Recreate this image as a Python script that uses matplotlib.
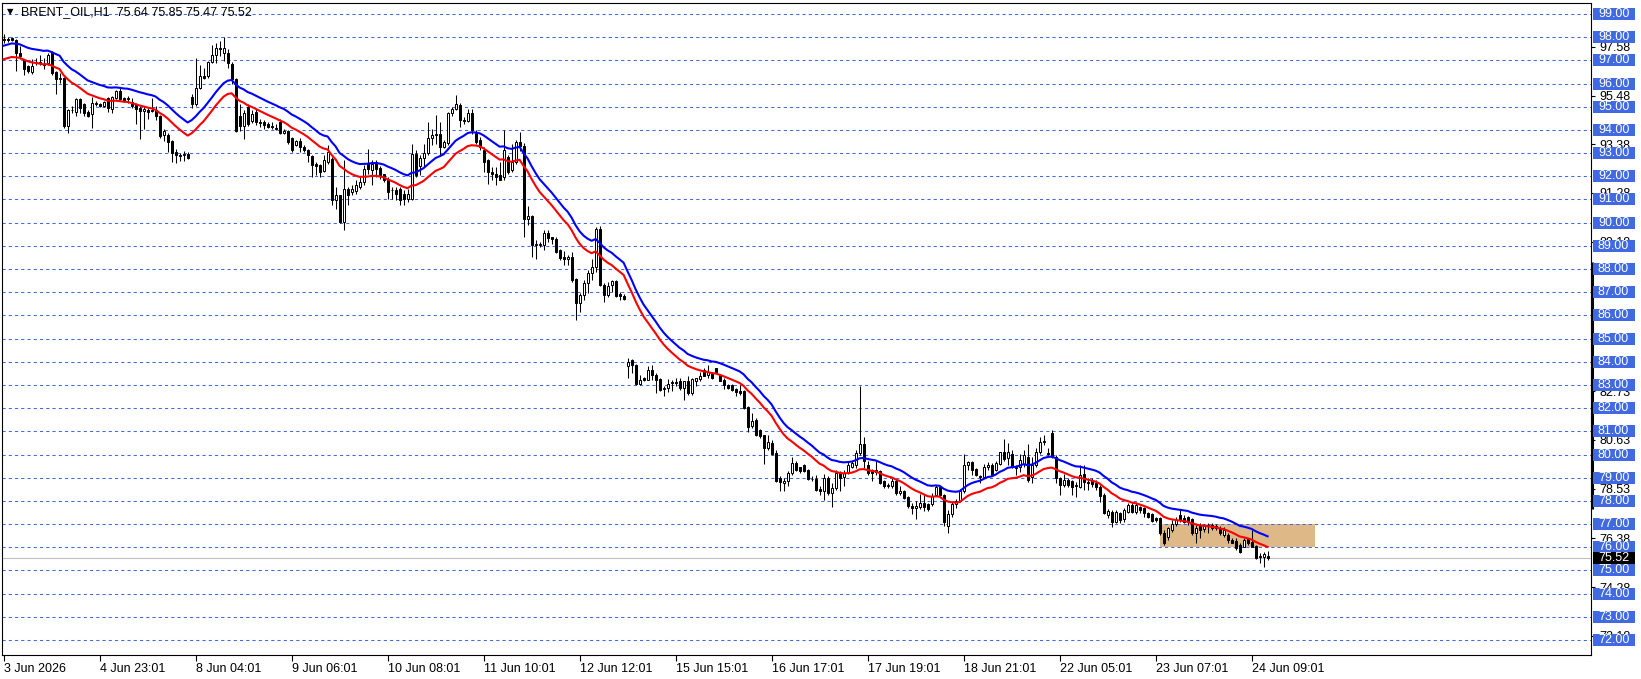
import matplotlib
matplotlib.use("Agg")
import matplotlib.pyplot as plt
import matplotlib.transforms as mtransforms
from matplotlib.patches import Rectangle
import numpy as np

plt.rcParams['font.family'] = ['Liberation Sans', 'DejaVu Sans']

# ---- data (hourly bars, oldest first) ----
title_text = "BRENT_OIL,H1  75.64 75.85 75.47 75.52"
time_labels = ["3 Jun 2026", "4 Jun 23:01", "8 Jun 04:01", "9 Jun 06:01",
               "10 Jun 08:01", "11 Jun 10:01", "12 Jun 12:01", "15 Jun 15:01",
               "16 Jun 17:01", "17 Jun 19:01", "18 Jun 21:01", "22 Jun 05:01",
               "23 Jun 07:01", "24 Jun 09:01"]
bars_per_label = 24

opens = [
    97.88, 97.92, 97.95, 97.87, 97.30, 97.00, 96.75, 96.50, 96.90, 96.92,
    96.86, 96.89, 97.30, 96.49, 96.20, 96.25, 94.16, 94.85, 94.77, 95.34,
    95.10, 94.78, 94.67, 95.14, 95.12, 95.03, 95.39, 94.91, 95.39, 95.70,
    95.39, 95.34, 95.20, 95.10, 94.95, 94.80, 94.88, 94.80, 94.88, 94.62,
    93.76, 93.76, 93.52, 93.04, 92.92, 92.94, 92.97, 95.43, 95.10, 95.82,
    96.32, 96.32, 96.92, 97.25, 97.54, 97.33, 97.32, 96.86, 96.18, 94.62,
    94.16, 95.00, 94.38, 94.78, 94.35, 94.35, 94.27, 94.16, 94.10, 94.35,
    93.87, 93.96, 93.67, 93.37, 93.53, 93.27, 93.15, 92.86, 92.55, 92.47,
    92.23, 92.62, 92.76, 90.96, 91.18, 90.03, 91.47, 91.32, 91.37, 91.54,
    91.76, 92.55, 92.29, 92.62, 92.37, 92.09, 91.86, 91.40, 91.40, 91.47,
    91.25, 91.04, 91.04, 92.95, 92.43, 92.81, 93.01, 93.63, 93.77, 93.84,
    93.27, 93.44, 94.71, 94.92, 95.06, 94.42, 94.39, 94.73, 93.87, 93.58,
    93.12, 92.69, 92.19, 92.12, 92.04, 91.97, 92.83, 92.26, 92.62, 93.48,
    93.30, 90.17, 90.27, 89.03, 89.05, 89.03, 89.57, 89.38, 89.31, 88.81,
    88.52, 88.42, 88.50, 87.56, 86.52, 86.88, 87.38, 87.81, 88.09, 89.74,
    87.31, 86.88, 87.31, 87.48, 86.91, 86.85, 83.80, 84.08, 83.87, 83.04,
    83.30, 83.22, 83.65, 83.44, 83.27, 82.84, 82.89, 83.08, 83.12, 83.15,
    82.87, 83.18, 82.65, 83.15, 83.27, 83.65, 83.44, 83.51, 83.72, 83.41,
    83.22, 83.01, 83.01, 82.82, 82.72, 82.72, 82.03, 81.22, 81.50, 81.07,
    80.83, 80.29, 80.51, 80.05, 78.99, 78.77, 78.87, 79.20, 79.63, 79.44,
    79.53, 79.34, 78.96, 78.96, 78.53, 78.42, 78.99, 78.34, 78.56, 79.20,
    79.01, 79.20, 79.48, 79.56, 80.05, 80.44, 79.56, 79.34, 79.34, 79.27,
    78.87, 78.63, 78.63, 78.87, 78.34, 78.44, 78.16, 77.77, 77.68, 77.73,
    77.92, 77.85, 77.85, 78.27, 78.59, 78.27, 76.90, 77.45, 77.85, 77.99,
    78.42, 79.56, 79.67, 79.38, 79.06, 79.01, 79.48, 79.53, 79.34, 79.58,
    80.10, 79.84, 80.01, 79.48, 79.47, 79.61, 79.90, 79.04, 79.54, 80.11,
    80.54, 80.06, 80.93, 79.90, 78.97, 78.68, 78.89, 78.87, 78.66, 78.61,
    79.18, 78.82, 78.87, 78.75, 78.61, 78.25, 77.39, 77.53, 77.10, 77.46,
    77.20, 77.53, 77.82, 77.53, 77.75, 77.68, 77.46, 77.42, 77.25, 77.25,
    76.60, 76.46, 76.75, 77.00, 77.39, 77.25, 77.32, 77.20, 76.60, 76.96,
    76.77, 76.92, 76.82, 76.92, 76.82, 76.53, 76.53, 76.32, 76.29, 76.10,
    76.03, 76.34, 76.24, 76.06, 75.60, 75.57, 75.64,
]
highs = [
    98.15, 98.00, 98.00, 97.92, 97.61, 97.05, 96.80, 97.04, 97.11, 97.25,
    97.11, 97.32, 97.40, 96.53, 96.46, 96.30, 94.90, 95.03, 95.39, 95.38,
    95.15, 94.85, 95.43, 95.24, 95.18, 95.25, 95.42, 95.46, 95.74, 95.82,
    95.43, 95.46, 95.39, 95.14, 95.03, 95.03, 94.95, 95.39, 95.03, 94.66,
    94.02, 93.88, 93.55, 93.16, 93.01, 93.09, 93.04, 95.53, 97.11, 96.82,
    96.68, 96.97, 97.68, 97.76, 97.83, 98.00, 97.47, 96.95, 96.25, 95.10,
    94.88, 95.10, 94.88, 94.92, 94.49, 94.42, 94.35, 94.35, 94.27, 94.49,
    94.06, 93.99, 93.70, 93.55, 93.63, 93.34, 93.19, 92.91, 92.62, 92.55,
    92.91, 93.34, 92.83, 91.54, 91.20, 92.69, 91.54, 91.61, 91.83, 91.97,
    92.47, 93.19, 92.69, 92.69, 92.43, 92.12, 91.97, 91.54, 91.54, 91.54,
    91.40, 91.47, 93.41, 93.12, 92.91, 93.41, 94.35, 94.06, 94.63, 94.35,
    93.55, 94.78, 94.99, 95.50, 95.14, 94.56, 94.92, 94.92, 94.01, 93.70,
    93.27, 92.76, 92.40, 92.40, 92.62, 93.99, 92.91, 93.41, 93.55, 93.90,
    93.45, 90.74, 90.35, 89.24, 89.17, 89.67, 89.67, 89.40, 89.38, 88.88,
    88.77, 88.60, 88.74, 87.60, 86.95, 87.52, 87.95, 88.45, 89.81, 89.86,
    87.38, 87.45, 87.52, 87.52, 87.02, 86.91, 84.15, 84.13, 83.90, 83.44,
    83.35, 83.80, 83.87, 83.51, 83.30, 82.94, 83.27, 83.22, 83.30, 83.30,
    83.18, 83.37, 83.30, 83.32, 83.58, 83.72, 83.87, 83.58, 83.75, 83.44,
    83.30, 83.04, 83.04, 82.87, 83.01, 82.79, 82.08, 81.79, 81.58, 81.12,
    80.85, 80.86, 80.62, 80.20, 79.06, 78.99, 79.27, 79.91, 79.70, 79.48,
    79.58, 79.38, 79.06, 79.13, 78.63, 79.16, 79.06, 78.77, 79.34, 79.27,
    79.34, 79.73, 79.70, 80.20, 82.95, 80.77, 79.70, 79.38, 79.70, 79.34,
    78.91, 78.77, 78.99, 78.96, 78.63, 78.49, 78.20, 77.92, 77.99, 78.30,
    78.27, 77.92, 78.34, 78.70, 78.63, 78.30, 77.60, 77.95, 78.10, 78.50,
    80.01, 79.70, 79.73, 79.41, 79.13, 79.58, 79.67, 79.63, 79.70, 80.13,
    80.67, 80.48, 80.20, 79.56, 80.04, 80.18, 80.47, 79.90, 80.26, 80.76,
    80.83, 80.26, 81.07, 79.97, 79.04, 79.18, 78.97, 78.92, 78.82, 79.54,
    79.54, 78.97, 78.97, 78.89, 78.68, 78.32, 77.63, 77.60, 77.60, 77.53,
    77.68, 77.89, 77.89, 77.96, 77.78, 77.72, 77.53, 77.46, 77.32, 77.32,
    76.75, 76.89, 77.17, 77.32, 77.60, 77.39, 77.35, 77.25, 76.96, 77.03,
    77.00, 77.06, 77.03, 77.00, 76.92, 76.89, 76.60, 76.39, 76.39, 76.17,
    76.39, 76.39, 76.75, 76.10, 75.74, 75.81, 75.85,
]
lows = [
    97.76, 97.80, 97.82, 96.56, 97.04, 96.39, 96.46, 96.43, 96.78, 96.82,
    96.61, 96.82, 96.39, 95.53, 96.03, 94.09, 93.88, 94.74, 94.59, 94.74,
    94.59, 94.55, 94.09, 95.03, 95.00, 94.98, 94.77, 94.71, 95.34, 95.31,
    95.20, 95.17, 94.95, 94.24, 93.62, 94.02, 94.45, 94.78, 94.42, 93.66,
    93.52, 93.04, 92.61, 92.58, 92.66, 92.66, 92.73, 94.95, 95.03, 95.77,
    96.18, 96.25, 96.89, 96.89, 97.18, 96.97, 96.68, 95.96, 93.91, 93.95,
    93.59, 94.16, 94.31, 94.20, 94.13, 94.06, 94.10, 94.06, 93.99, 93.84,
    93.84, 93.41, 93.05, 93.30, 93.05, 93.05, 92.62, 91.97, 92.04, 91.97,
    92.19, 92.55, 90.75, 90.60, 90.00, 89.67, 90.75, 91.18, 91.25, 91.47,
    91.61, 92.12, 91.61, 91.97, 91.90, 91.76, 91.04, 91.04, 90.96, 90.75,
    90.75, 90.89, 90.96, 91.97, 92.04, 92.40, 92.91, 93.34, 93.41, 92.91,
    93.20, 93.34, 94.59, 94.85, 94.13, 94.27, 94.35, 93.84, 93.41, 93.12,
    92.19, 91.68, 91.83, 91.61, 91.83, 91.83, 92.12, 92.19, 92.55, 93.10,
    89.38, 89.89, 88.52, 88.45, 88.95, 88.81, 89.17, 89.10, 88.67, 88.38,
    88.17, 88.17, 87.42, 85.80, 86.16, 86.66, 86.95, 87.52, 87.88, 87.28,
    86.59, 86.81, 87.02, 86.81, 86.66, 86.66, 83.30, 83.51, 83.00, 83.00,
    83.18, 83.20, 83.22, 82.65, 82.72, 82.51, 82.69, 82.72, 82.94, 82.79,
    82.36, 82.58, 82.58, 82.94, 83.15, 83.37, 83.30, 83.27, 83.55, 83.15,
    82.84, 82.84, 82.75, 82.51, 82.58, 81.98, 80.97, 81.15, 80.79, 80.72,
    79.57, 80.21, 79.98, 78.80, 78.42, 78.44, 78.63, 79.13, 79.27, 79.20,
    79.24, 78.91, 78.87, 78.42, 78.27, 78.02, 78.27, 77.73, 78.49, 78.44,
    78.63, 79.16, 79.41, 79.41, 79.98, 79.41, 79.13, 78.87, 79.13, 78.73,
    78.56, 78.56, 78.56, 78.27, 78.27, 78.10, 77.70, 77.45, 77.21, 77.63,
    77.56, 77.56, 77.77, 78.20, 78.20, 76.90, 76.62, 77.30, 77.70, 77.95,
    78.34, 79.34, 79.13, 79.06, 78.77, 78.99, 79.34, 79.06, 79.27, 79.56,
    79.73, 79.56, 79.41, 79.13, 79.25, 79.47, 78.82, 78.75, 79.47, 80.04,
    80.40, 79.97, 79.83, 78.75, 78.25, 78.61, 78.61, 78.25, 78.18, 78.54,
    78.46, 78.46, 78.61, 78.46, 77.96, 77.43, 77.25, 76.89, 77.06, 77.03,
    77.10, 77.46, 77.46, 77.43, 77.46, 77.32, 77.25, 77.10, 77.10, 76.53,
    76.10, 76.32, 76.67, 76.92, 77.10, 77.03, 76.96, 76.53, 76.20, 76.39,
    76.67, 76.60, 76.75, 76.75, 76.53, 76.46, 76.20, 76.17, 75.89, 75.74,
    76.00, 76.10, 76.00, 75.50, 75.34, 75.17, 75.47,
]
closes = [
    97.92, 97.87, 97.88, 97.30, 97.20, 96.64, 96.53, 96.75, 96.92, 96.89,
    96.80, 97.25, 96.46, 96.20, 96.25, 94.16, 94.85, 94.88, 95.34, 94.95,
    94.74, 94.59, 95.14, 95.12, 95.05, 95.20, 94.95, 95.43, 95.67, 95.34,
    95.24, 95.39, 95.03, 94.91, 94.81, 94.91, 94.77, 94.88, 94.59, 93.73,
    93.95, 93.47, 93.01, 92.90, 92.88, 92.92, 92.80, 95.10, 95.82, 96.32,
    96.25, 96.92, 97.21, 97.54, 97.47, 97.54, 96.89, 96.18, 93.95, 94.16,
    94.74, 94.24, 94.67, 94.35, 94.30, 94.20, 94.13, 94.12, 94.05, 93.87,
    93.95, 93.48, 93.12, 93.51, 93.27, 93.12, 92.91, 92.47, 92.43, 92.19,
    92.69, 93.05, 90.96, 91.18, 90.03, 91.47, 91.18, 91.47, 91.61, 91.76,
    92.33, 92.33, 92.55, 92.33, 92.04, 91.86, 91.32, 91.42, 91.25, 90.96,
    91.04, 91.25, 92.95, 92.04, 92.81, 93.01, 93.63, 93.77, 93.84, 93.27,
    93.48, 94.71, 94.92, 95.11, 94.42, 94.38, 94.71, 93.99, 93.48, 93.27,
    92.62, 92.19, 92.09, 91.97, 91.86, 93.12, 92.19, 92.62, 93.48, 93.30,
    90.17, 90.27, 89.03, 89.06, 89.10, 89.57, 89.34, 89.28, 88.74, 88.48,
    88.42, 88.52, 87.52, 86.52, 86.88, 87.38, 87.81, 88.09, 89.74, 87.31,
    86.88, 87.26, 87.48, 86.85, 86.85, 86.69, 84.00, 83.87, 83.04, 83.22,
    83.22, 83.65, 83.44, 83.22, 82.79, 82.89, 83.04, 83.12, 83.08, 82.87,
    83.15, 82.65, 83.27, 83.30, 83.37, 83.37, 83.58, 83.30, 83.58, 83.18,
    83.01, 82.89, 82.79, 82.69, 82.65, 82.01, 81.17, 81.46, 80.83, 80.79,
    80.26, 80.53, 80.01, 78.84, 78.81, 78.87, 79.20, 79.63, 79.34, 79.27,
    79.30, 78.96, 78.94, 78.49, 78.42, 78.99, 78.34, 78.56, 79.20, 78.99,
    79.20, 79.56, 79.63, 80.05, 80.44, 79.70, 79.20, 79.20, 79.24, 78.77,
    78.63, 78.67, 78.87, 78.34, 78.44, 78.13, 77.77, 77.68, 77.77, 77.92,
    77.73, 77.63, 78.20, 78.59, 78.27, 77.10, 77.45, 77.85, 78.00, 78.42,
    79.56, 79.67, 79.34, 79.13, 79.01, 79.48, 79.56, 79.10, 79.63, 80.10,
    79.81, 80.13, 79.48, 79.40, 79.75, 79.97, 78.89, 79.54, 80.11, 80.54,
    80.58, 80.04, 79.90, 78.97, 78.68, 78.89, 78.68, 78.61, 78.70, 79.11,
    78.82, 78.75, 78.72, 78.61, 78.21, 77.46, 77.58, 77.10, 77.53, 77.17,
    77.60, 77.82, 77.53, 77.82, 77.60, 77.46, 77.32, 77.15, 77.17, 76.60,
    76.17, 76.82, 77.00, 77.17, 77.17, 77.10, 77.10, 76.60, 76.82, 76.75,
    76.92, 76.96, 76.96, 76.82, 76.60, 76.75, 76.32, 76.20, 75.96, 75.81,
    76.32, 76.20, 76.03, 75.53, 75.63, 75.70, 75.52,
]

# horizontal price levels and the terminal's own scale labels
level_prices = list(range(72, 100))
scale_ticks = [97.58, 95.48, 93.38, 91.28, 89.18, 87.08, 84.93, 82.73,
               80.63, 78.53, 76.38, 74.28, 72.18]
last_price = 75.52

# envelopes indicator: EMA(20) of close, +-0.3 %
ema_period = 20
env_dev = 0.003
ema_start = 97.34

# rectangle object and scale marker
zone_low, zone_high = 76.0, 77.0
zone_left, zone_right = 289.1, 327.9
marker_low, marker_high = 77.64, 88.32

# ---- figure ----
W, H = 1641, 679
fig = plt.figure(figsize=(W / 100, H / 100), dpi=100)
ax = fig.add_axes([2 / W, 24 / H, 1589 / W, 652 / H])
ax.set_xlim(-0.4, 396.85)
ax.set_ylim(71.353, 99.474)

n = len(closes)
x = np.arange(n)
o = np.array(opens)
h = np.array(highs)
l = np.array(lows)
c = np.array(closes)

level_blue = '#4169E1'
for p in level_prices:
    ax.axhline(p, color=level_blue, lw=0.75, ls=(0, (3, 3)), zorder=1.5)
ax.axhline(last_price, color='#C0C0C0', lw=0.8, zorder=1.6)

ax.add_patch(Rectangle((zone_left, zone_low), zone_right - zone_left,
                       zone_high - zone_low, facecolor='#DEB887',
                       edgecolor='none', zorder=1))

# candles
ax.vlines(x, l, h, color='black', lw=0.75, zorder=2)
bull = c >= o
body_low = np.minimum(o, c)
body_h = np.maximum(np.abs(c - o), 0.015)
ax.bar(x[bull], body_h[bull], bottom=body_low[bull], width=0.5,
       color='white', edgecolor='black', linewidth=0.72, zorder=3)
ax.bar(x[~bull], body_h[~bull], bottom=body_low[~bull], width=0.5,
       color='black', edgecolor='black', linewidth=0.72, zorder=3)

# envelopes
ema = np.empty(n)
ema[0] = ema_start
k = 2.0 / (ema_period + 1)
for i in range(1, n):
    ema[i] = ema[i - 1] + k * (c[i] - ema[i - 1])
ax.plot(x, ema * (1 + env_dev), color='#0000FF', lw=1.5, zorder=4)
ax.plot(x, ema * (1 - env_dev), color='#FF0000', lw=1.5, zorder=4)

# axes styling
for s in ax.spines.values():
    s.set_linewidth(0.8)
    s.set_color('black')
ax.set_xticks(np.arange(len(time_labels)) * bars_per_label)
ax.set_xticklabels(time_labels, ha='left', fontsize=9)
ax.yaxis.tick_right()
ax.set_yticks(scale_ticks)
ax.set_yticklabels([f"{v:.2f}" for v in scale_ticks], fontsize=9)
ax.tick_params(axis='x', direction='out', length=4, width=0.8, pad=2)
ax.tick_params(axis='y', direction='out', length=3, width=0.8, pad=3)

trans = mtransforms.blended_transform_factory(ax.transAxes, ax.transData)
box_x0 = (1593 - 2) / 1589
box_w = 42 / 1589
box_h = 12 / 23.185
txt_x = (1598 - 2) / 1589
for p in level_prices:
    ax.add_patch(Rectangle((box_x0, p - box_h / 2), box_w, box_h,
                           transform=trans, clip_on=False,
                           facecolor=level_blue, edgecolor='none', zorder=10))
    ax.text(txt_x, p, f"{p:.2f}", transform=trans, color='white',
            fontsize=9, ha='left', va='center', zorder=11, clip_on=False)
ax.add_patch(Rectangle((box_x0, last_price - box_h / 2), box_w, box_h,
                       transform=trans, clip_on=False,
                       facecolor='black', edgecolor='none', zorder=12))
ax.text(txt_x, last_price, f"{last_price:.2f}", transform=trans,
        color='white', fontsize=9, ha='left', va='center', zorder=13,
        clip_on=False)
ax.plot([1.0007, 1.0007], [marker_low, marker_high], transform=trans,
        color='black', lw=2.2, solid_capstyle='butt', clip_on=False, zorder=9)

ax.text(5 / 1589, 1 - 9 / 652, "\u25bc", transform=ax.transAxes,
        fontsize=6, ha='left', va='center', family=['DejaVu Sans'])
ax.text(19 / 1589, 1 - 9 / 652, title_text, transform=ax.transAxes,
        fontsize=9, ha='left', va='center')

fig.savefig("out.png", dpi=100, facecolor='white')
